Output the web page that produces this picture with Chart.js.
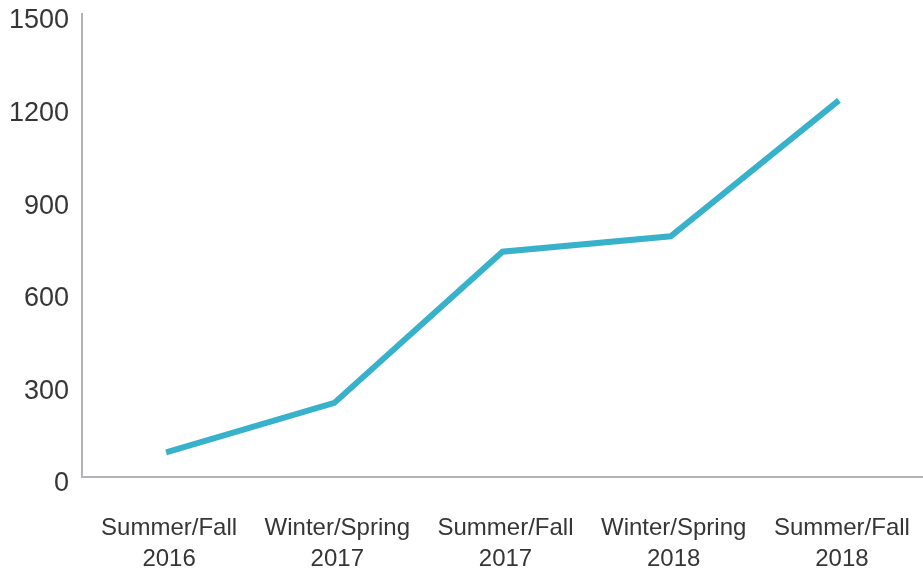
<!DOCTYPE html>
<html>
<head>
<meta charset="utf-8">
<script src="https://cdn.jsdelivr.net/npm/chart.js@4"></script>
<style>
  html, body { margin: 0; padding: 0; background: #fff; }
  #wrap { width: 923px; height: 573px; }
</style>
</head>
<body>
<div id="wrap"><canvas id="enrollChart"></canvas></div>
<script>
// Data
const terms = [
    ['Summer/Fall', '2016'],
    ['Winter/Spring', '2017'],
    ['Summer/Fall', '2017'],
    ['Winter/Spring', '2018'],
    ['Summer/Fall', '2018']
];
const counts = [80, 240, 730, 780, 1220];
const yTicks = [0, 300, 600, 900, 1200, 1500];

const textColor = '#363636';
const axisColor = '#b4b4b8';
const fontFamily = '"Liberation Sans", Arial, sans-serif';

const ctx = document.getElementById('enrollChart').getContext('2d');
const enrollChart = new Chart(ctx, {
    type: 'line',
    data: {
        labels: terms,
        datasets: [{
            data: counts,
            borderColor: '#38b1ca',
            borderWidth: 6,
            pointRadius: 0,
            fill: false,
            tension: 0
        }]
    },
    options: {
        responsive: true,
        maintainAspectRatio: false,
        animation: false,
        layout: { padding: { top: 14, right: 0, left: 0, bottom: 0 } },
        plugins: {
            legend: { display: false },
            tooltip: { enabled: false }
        },
        scales: {
            x: {
                offset: true,
                grid: { display: false, drawTicks: false },
                border: { display: true, color: axisColor, width: 2 },
                ticks: {
                    color: textColor,
                    padding: 36,
                    labelOffset: 3,
                    maxRotation: 0,
                    autoSkip: false,
                    font: { family: fontFamily, size: 24, lineHeight: 1.3 }
                },
                afterFit: (scale) => {
                    scale.height = 96;
                    scale.paddingLeft = 0;
                    scale.paddingRight = 0;
                }
            },
            y: {
                min: 0,
                max: 1500,
                afterBuildTicks: (scale) => { scale.ticks = yTicks.map(v => ({ value: v })); },
                grid: { display: false, drawTicks: false },
                border: { display: true, color: axisColor, width: 2 },
                ticks: {
                    color: textColor,
                    padding: 13,
                    labelOffset: 7,
                    callback: (value) => String(value),
                    font: { family: fontFamily, size: 27 }
                },
                afterFit: (scale) => {
                    scale.width = 82;
                    scale.paddingTop = 0;
                    scale.paddingBottom = 0;
                }
            }
        }
    }
});
</script>
</body>
</html>
